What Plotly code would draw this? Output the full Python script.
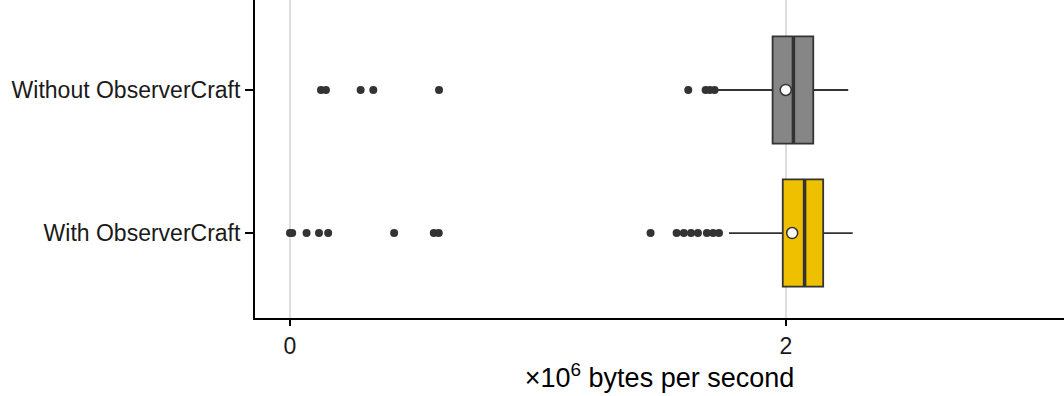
import plotly.graph_objects as go

groups = ["With ObserverCraft", "Without ObserverCraft"]
ypos = [0, 1]
q1 = [1.987, 1.946]
median = [2.075, 2.030]
q3 = [2.150, 2.110]
lower = [1.770, 1.726]
upper = [2.269, 2.251]
means = [2.025, 1.999]
colors = ["#EFC000", "#868686"]
outliers_with = [0.0, 0.009, 0.067, 0.117, 0.154, 0.42, 0.58, 0.60,
                 1.454, 1.559, 1.588, 1.617, 1.645, 1.681, 1.706, 1.730]
outliers_without = [0.125, 0.145, 0.285, 0.336, 0.601,
                    1.606, 1.676, 1.693, 1.712]
outliers = [outliers_with, outliers_without]

BW = 0.75
fig = go.Figure()
for i in range(2):
    fig.add_trace(go.Box(
        y=[ypos[i]], q1=[q1[i]], median=[median[i]], q3=[q3[i]],
        lowerfence=[lower[i]], upperfence=[upper[i]],
        orientation="h", width=BW, whiskerwidth=0, fillcolor=colors[i],
        line=dict(color="#333333", width=1.8), boxpoints=False,
        showlegend=False, hoverinfo="skip"))
    fig.add_trace(go.Scatter(
        x=[median[i], median[i]], y=[ypos[i] - BW / 2, ypos[i] + BW / 2],
        mode="lines", line=dict(color="#333333", width=3.5),
        showlegend=False, hoverinfo="skip"))
    fig.add_trace(go.Scatter(
        x=outliers[i], y=[ypos[i]] * len(outliers[i]), mode="markers",
        marker=dict(color="#333333", size=8), showlegend=False))
    fig.add_trace(go.Scatter(
        x=[means[i]], y=[ypos[i]], mode="markers",
        marker=dict(color="white", size=11, line=dict(color="#333333", width=1.5)),
        showlegend=False))

fig.update_layout(
    width=1064, height=396,
    margin=dict(l=255, r=0, t=0, b=78),
    plot_bgcolor="white", paper_bgcolor="white",
    font=dict(family="Liberation Sans, Arial", size=23, color="black"),
    xaxis=dict(range=[-0.141, 3.121], tickvals=[0, 2], ticktext=["0", "2"],
               showgrid=True, gridcolor="#DDDDDD", gridwidth=1.5,
               zeroline=False, showline=True, linecolor="black", linewidth=2,
               ticks="outside", ticklen=6, tickwidth=1.5, tickcolor="black",
               tickfont=dict(size=23, color="#1a1a1a"),
               title=dict(text="×10<sup>6</sup> bytes per second",
                          font=dict(size=27), standoff=8)),
    yaxis=dict(range=[-0.594, 1.629], tickvals=ypos, ticktext=groups,
               showgrid=False, zeroline=False, showline=True, linecolor="black",
               linewidth=2, ticks="outside", ticklen=8, tickwidth=1.5,
               tickcolor="black", tickfont=dict(size=23, color="#1a1a1a")),
)

fig.write_html("out.html")
